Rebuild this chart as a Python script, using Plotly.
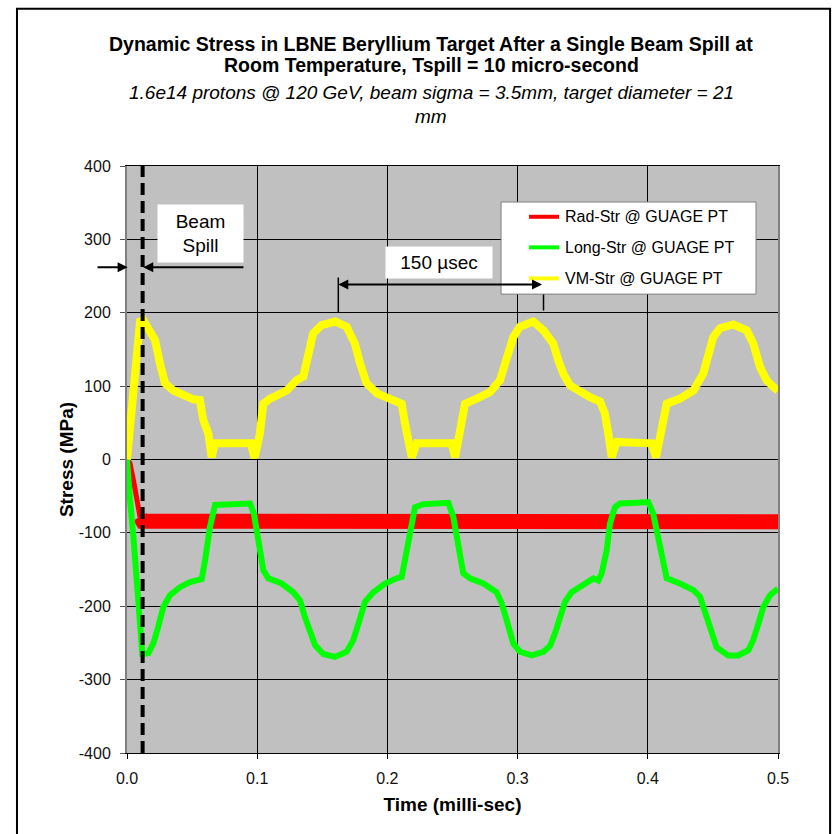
import plotly.graph_objects as go

# ---- series data (time in milli-sec, stress in MPa) ----
rad_t = [0, 0.0023, 0.0049, 0.0074, 0.010, 0.012, 0.05, 0.10, 0.15, 0.20,
         0.25, 0.30, 0.35, 0.40, 0.45, 0.50]
rad_v = [0, -5, -28, -51, -78, -84, -84, -84, -85, -85,
         -85, -85, -85, -85, -85, -85]

long_t = [0, 0.001, 0.0023, 0.0049, 0.0074, 0.010, 0.0118, 0.0164, 0.0202, 0.024,
          0.0279, 0.033, 0.0407, 0.0484, 0.0548, 0.0574, 0.060, 0.0637, 0.0676, 0.0817,
          0.0945, 0.0975, 0.1009, 0.1047, 0.1085, 0.1188, 0.1277, 0.1329, 0.1367, 0.1406,
          0.1444, 0.1508, 0.1598, 0.1687, 0.1738, 0.1777, 0.1828, 0.1892, 0.1982, 0.2071,
          0.211, 0.2135, 0.2174, 0.2212, 0.2276, 0.2404, 0.2468, 0.2506, 0.2545, 0.2583,
          0.2634, 0.2737, 0.2839, 0.2878, 0.2916, 0.2967, 0.3018, 0.3108, 0.3198, 0.3249,
          0.3287, 0.3326, 0.3364, 0.3415, 0.3505, 0.3582, 0.362, 0.3646, 0.3684, 0.371,
          0.3748, 0.3786, 0.3915, 0.4004, 0.4042, 0.4081, 0.4119, 0.4145, 0.4247, 0.435,
          0.4401, 0.4439, 0.4478, 0.4529, 0.4618, 0.4695, 0.4772, 0.481, 0.4849, 0.4887,
          0.4939, 0.5]
long_v = [0, -30, -55, -105, -169, -240, -265, -264, -251, -228,
          -201, -185, -174, -167, -163, -163, -137, -92, -62, -61,
          -60, -74, -110, -151, -162, -169, -181, -192, -215, -233,
          -253, -265, -269, -262, -246, -224, -194, -181, -169, -162,
          -160, -137, -101, -65, -61, -61, -59, -78, -115, -155,
          -162, -169, -181, -196, -219, -251, -262, -267, -262, -254,
          -237, -215, -194, -181, -171, -162, -165, -155, -124, -87,
          -65, -60, -59, -58, -74, -110, -146, -162, -169, -178,
          -187, -206, -228, -256, -267, -267, -260, -246, -224, -201,
          -185, -176]

vm_t = [0, 0.001, 0.0023, 0.0049, 0.0074, 0.010, 0.0125, 0.0177, 0.0215, 0.0253,
        0.0292, 0.0356, 0.0432, 0.051, 0.056, 0.0586, 0.0625, 0.065, 0.0675, 0.075,
        0.085, 0.095, 0.098, 0.102, 0.1047, 0.11, 0.1227, 0.1303, 0.1354, 0.139,
        0.143, 0.1495, 0.16, 0.1687, 0.175, 0.179, 0.184, 0.192, 0.202, 0.207,
        0.211, 0.2135, 0.216, 0.2187, 0.2225, 0.235, 0.2494, 0.252, 0.2558, 0.2596,
        0.2686, 0.2788, 0.2865, 0.2916, 0.2967, 0.3018, 0.312, 0.3198, 0.3274, 0.3313,
        0.3351, 0.3402, 0.348, 0.3556, 0.3633, 0.367, 0.3697, 0.3723, 0.3761, 0.39,
        0.403, 0.4063, 0.4107, 0.4145, 0.4247, 0.435, 0.4426, 0.4465, 0.4503, 0.4555,
        0.4657, 0.476, 0.481, 0.4862, 0.4913, 0.4964, 0.5]
vm_v = [0, 17, 40, 94, 140, 188, 190, 176, 163, 131,
        104, 94, 88, 82, 81, 54, 35, 3, 22, 22,
        22, 22, 2, 35, 76, 83, 94, 108, 113, 145,
        172, 183, 188, 181, 158, 131, 104, 90, 83, 81,
        76, 49, 26, 3, 22, 22, 22, 3, 44, 76,
        83, 92, 108, 140, 167, 181, 188, 176, 158, 135,
        117, 101, 92, 85, 79, 63, 35, 3, 24, 22,
        22, 3, 44, 76, 83, 94, 117, 145, 167, 179,
        184, 176, 158, 126, 108, 99, 94]

series_names = ["Rad-Str @ GUAGE PT", "Long-Str @ GUAGE PT", "VM-Str @ GUAGE PT"]
series_colors = ["#FF0000", "#00FF00", "#FFFF00"]

x_ticks = [0.0, 0.1, 0.2, 0.3, 0.4, 0.5]
x_tick_text = ["0.0", "0.1", "0.2", "0.3", "0.4", "0.5"]
y_ticks = [-400, -300, -200, -100, 0, 100, 200, 300, 400]
y_tick_text = ["-400", "-300", "-200", "-100", "0", "100", "200", "300", "400"]

spill_end = 0.012          # end of the 10 micro-second beam spill
period_start, period_end = 0.1623, 0.3199

FONT = "Liberation Sans, Arial, sans-serif"

fig = go.Figure()

# radial stress: thin initial ramp, then the dense oscillation band
fig.add_trace(go.Scatter(x=rad_t[:6], y=rad_v[:6], mode="lines", name=series_names[0],
                         line=dict(color=series_colors[0], width=5), showlegend=False))
fig.add_trace(go.Scatter(x=rad_t[4:], y=rad_v[4:], mode="lines", name=series_names[0],
                         line=dict(color=series_colors[0], width=15), showlegend=False))
fig.add_trace(go.Scatter(x=long_t, y=long_v, mode="lines", name=series_names[1],
                         line=dict(color=series_colors[1], width=6), showlegend=False))
fig.add_trace(go.Scatter(x=vm_t, y=vm_v, mode="lines", name=series_names[2],
                         line=dict(color=series_colors[2], width=8), showlegend=False))

shapes = []
# beam spill marker
shapes.append(dict(type="line", xref="x", yref="y", x0=spill_end, x1=spill_end,
                   y0=-400, y1=400, line=dict(color="black", width=4, dash="12px,6px")))
# 150 usec period brackets
shapes.append(dict(type="line", xref="x", yref="y", x0=period_start, x1=period_start,
                   y0=201, y1=248, line=dict(color="black", width=1.5)))
shapes.append(dict(type="line", xref="x", yref="y", x0=period_end, x1=period_end,
                   y0=203, y1=248, line=dict(color="black", width=1.5)))
# outer frame of the chart
shapes.append(dict(type="rect", xref="paper", yref="paper", x0=-0.169, x1=1.080,
                   y0=-0.2, y1=1.268, line=dict(color="black", width=2),
                   fillcolor="rgba(0,0,0,0)", layer="below"))

# legend box
legend_x0, legend_x1 = 0.2873, 0.4831
legend_y0, legend_y1 = 225.4, 350.9
shapes.append(dict(type="rect", xref="x", yref="y", x0=legend_x0, x1=legend_x1,
                   y0=legend_y0, y1=legend_y1, fillcolor="white",
                   line=dict(color="#808080", width=1)))
legend_rows = [330.8, 289.1, 246.8]
annotations = []
for name, color, yrow in zip(series_names, series_colors, legend_rows):
    shapes.append(dict(type="line", xref="x", yref="y", x0=0.3088, x1=0.3318,
                       y0=yrow, y1=yrow, line=dict(color=color, width=4)))
    annotations.append(dict(x=0.3349, y=yrow, xref="x", yref="y", text=name,
                            showarrow=False, xanchor="left", yanchor="middle",
                            font=dict(family=FONT, size=16, color="black")))

# arrows marking the beam spill duration
annotations.append(dict(x=0.0005, y=262, ax=-0.0238, ay=262, xref="x", yref="y",
                        axref="x", ayref="y", text="", showarrow=True,
                        arrowhead=2, arrowsize=1, arrowwidth=2, arrowcolor="black"))
annotations.append(dict(x=spill_end + 0.0005, y=262, ax=0.0906, ay=262, xref="x", yref="y",
                        axref="x", ayref="y", text="", showarrow=True,
                        arrowhead=2, arrowsize=1, arrowwidth=2, arrowcolor="black"))
annotations.append(dict(x=0.0565, y=308, xref="x", yref="y", text="Beam<br>Spill",
                        showarrow=False, bgcolor="white", width=85, height=57,
                        borderpad=0, font=dict(family=FONT, size=19, color="black")))

# period arrow
annotations.append(dict(x=period_start, y=238.6, ax=period_end, ay=238.6, xref="x", yref="y",
                        axref="x", ayref="y", text="", showarrow=True, arrowside="end+start",
                        arrowhead=2, arrowsize=1, arrowwidth=2, arrowcolor="black"))
annotations.append(dict(x=0.2397, y=268.4, xref="x", yref="y", text="150 µsec",
                        showarrow=False, bgcolor="white", width=106, height=31,
                        borderpad=0, font=dict(family=FONT, size=19, color="black")))

# title lines
title_lines = [
    ("<b>Dynamic Stress in LBNE Beryllium Target After a Single Beam Spill at</b>", 1.2078, 19.5),
    ("<b>Room Temperature, Tspill = 10 micro-second</b>", 1.172, 19.5),
    ("<i>1.6e14 protons @ 120 GeV, beam sigma = 3.5mm, target diameter = 21</i>", 1.126, 19),
    ("<i>mm</i>", 1.0835, 19),
]
for txt, ypos, size in title_lines:
    annotations.append(dict(x=0.467, y=ypos, xref="paper", yref="paper", text=txt,
                            showarrow=False, xanchor="center", yanchor="middle",
                            font=dict(family=FONT, size=size, color="black")))

fig.update_layout(
    width=834, height=834, autosize=False,
    margin=dict(l=127, r=56, t=166, b=81),
    paper_bgcolor="white", plot_bgcolor="#C0C0C0",
    font=dict(family=FONT, color="black"),
    shapes=shapes, annotations=annotations,
    showlegend=False,
)
fig.update_xaxes(
    range=[0, 0.5], tickvals=x_ticks, ticktext=x_tick_text,
    showgrid=True, gridcolor="black", gridwidth=1, zeroline=False,
    showline=True, linecolor="black", linewidth=1, mirror=True,
    ticks="outside", ticklen=5, tickcolor="black",
    tickfont=dict(family=FONT, size=16, color="#111"), ticklabelstandoff=6,
    title=dict(text="<b>Time (milli-sec)</b>", font=dict(family=FONT, size=19, color="black"),
               standoff=11),
)
fig.update_yaxes(
    range=[-400, 400], tickvals=y_ticks, ticktext=y_tick_text,
    showgrid=True, gridcolor="black", gridwidth=1, zeroline=False,
    showline=True, linecolor="#808080", linewidth=2, mirror=True,
    ticks="outside", ticklen=5, tickcolor="#555",
    tickfont=dict(family=FONT, size=16, color="#111"), ticklabelstandoff=6,
    title=dict(text="<b>Stress (MPa)</b>", font=dict(family=FONT, size=19, color="black"),
               standoff=0),
)

fig.write_html("out.html")
